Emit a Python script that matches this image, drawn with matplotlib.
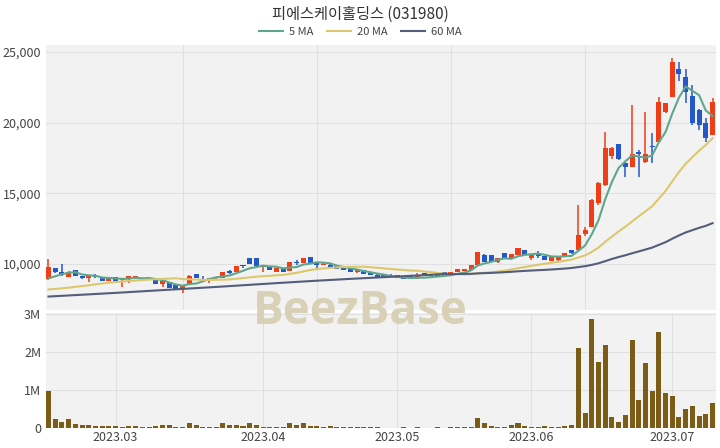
import pandas as pd
import numpy as np
import matplotlib
matplotlib.use("Agg")
import matplotlib.pyplot as plt
from matplotlib.lines import Line2D

plt.rcParams['font.family'] = ['Noto Sans CJK KR', 'DejaVu Sans']

title = "피에스케이홀딩스 (031980)"

# trading days (KRX holidays removed)
holidays = ["2023-03-01", "2023-05-01", "2023-05-05", "2023-05-29", "2023-06-06"]
dates = pd.bdate_range("2023-02-15", "2023-07-11")
dates = dates[~dates.isin(pd.to_datetime(holidays))]

opens = [8920, 9690, 9460, 9100, 9580, 9150, 8990, 9150, 9050, 8820,
         9050, 8870, 8990, 8990, 8990, 8990, 8870, 8590, 8750, 8520,
         8280, 8510, 9290, 9100, 8870, 8990, 8990, 9500, 9460, 9900,
         10400, 10400, 9760, 9810, 9460, 9690, 9530, 10120, 10050, 10470,
         10050, 9930, 9930, 9850, 9690, 9620, 9460, 9580, 9340, 9250,
         9250, 9250, 9220, 9175, 9150, 9000, 9340, 9290, 9340, 9450,
         9150, 9460, 9500, 9600, 9930, 10640, 10640, 10170, 10800, 10400,
         10640, 10990, 10400, 10700, 10590, 10230, 10280, 10500, 10990, 10990,
         12150, 12640, 14290, 15585, 17640, 18480, 17160, 16880, 17900, 17235,
         18350, 18650, 20770, 21830, 23770, 23250, 21880, 20890, 19940, 19120]
highs = [10350, 9750, 9970, 9500, 9600, 9170, 9180, 9260, 9060, 9060,
         9060, 9000, 9170, 9170, 9000, 9110, 8880, 8800, 8760, 8530,
         8510, 9200, 9300, 9150, 8990, 9110, 9470, 9580, 9880, 9960,
         10420, 10410, 9880, 9820, 9730, 9700, 10170, 10250, 10460, 10480,
         10060, 10050, 9990, 9860, 9700, 9630, 9590, 9590, 9350, 9260,
         9260, 9260, 9230, 9180, 9160, 9390, 9350, 9300, 9350, 9460,
         9460, 9630, 9630, 9940, 10880, 10700, 10650, 10420, 10810, 10690,
         11110, 11000, 10650, 10950, 10600, 10530, 10570, 10790, 11000, 14170,
         12600, 14600, 15800, 19360, 18250, 18500, 17200, 21240, 18060, 20770,
         19240, 21830, 21400, 24540, 24300, 23770, 22650, 20950, 20300, 21710]
lows = [8870, 9400, 9180, 9050, 9150, 8970, 8700, 8990, 8800, 8800,
        8800, 8400, 8630, 8970, 8800, 8870, 8580, 8400, 8270, 8150,
        7930, 8500, 8980, 8950, 8630, 8950, 8980, 9300, 9450, 9700,
        9990, 9870, 9460, 9570, 9450, 9410, 9520, 9930, 10040, 10040,
        9690, 9900, 9800, 9640, 9550, 9450, 9350, 9280, 9190, 9090,
        9090, 9090, 8980, 8910, 8910, 8950, 9140, 9140, 9140, 9140,
        9140, 9450, 9490, 9590, 9920, 10160, 10160, 10050, 10390, 10390,
        10630, 10630, 10280, 10400, 10270, 10220, 10200, 10490, 10740, 10950,
        11950, 12600, 14200, 15500, 17400, 17380, 16170, 16850, 16170, 17120,
        17120, 18600, 20650, 21800, 22960, 21360, 19830, 19470, 18650, 19100]
closes = [9810, 9460, 9220, 9460, 9180, 8990, 9170, 9060, 8820, 9050,
          8820, 8990, 9150, 9150, 8830, 8950, 8590, 8800, 8280, 8160,
          8510, 9170, 8990, 9050, 8990, 9100, 9460, 9340, 9870, 9830,
          10000, 9880, 9860, 9580, 9720, 9420, 10160, 10050, 10450, 10050,
          9900, 10020, 9810, 9650, 9560, 9460, 9580, 9290, 9200, 9100,
          9100, 9100, 8990, 8920, 8920, 9200, 9150, 9150, 9150, 9150,
          9450, 9620, 9620, 9930, 10870, 10170, 10170, 10400, 10400, 10680,
          11100, 10640, 10640, 10600, 10280, 10520, 10560, 10780, 10750, 12050,
          12400, 14525, 15700, 18180, 18180, 17400, 16830, 17780, 17780, 17780,
          18240, 21480, 21360, 24300, 23430, 22180, 19940, 19830, 18890, 21480]
volumes = [0.98, 0.23, 0.16, 0.23, 0.10, 0.07, 0.07, 0.05, 0.04, 0.04,
           0.04, 0.02, 0.05, 0.04, 0.03, 0.03, 0.04, 0.07, 0.07, 0.03,
           0.02, 0.12, 0.07, 0.03, 0.03, 0.03, 0.12, 0.07, 0.08, 0.05,
           0.13, 0.07, 0.03, 0.03, 0.02, 0.02, 0.12, 0.07, 0.13, 0.045,
           0.04, 0.03, 0.04, 0.03, 0.02, 0.02, 0.03, 0.02, 0.02, 0.02,
           0.01, 0.01, 0.01, 0.02, 0.01, 0.02, 0.01, 0.01, 0.02, 0.01,
           0.02, 0.02, 0.02, 0.02, 0.27, 0.12, 0.06, 0.03, 0.03, 0.08,
           0.14, 0.04, 0.03, 0.03, 0.04, 0.02, 0.02, 0.04, 0.07, 2.10,
           0.39, 2.86, 1.73, 2.20, 0.29, 0.17, 0.34, 2.33, 0.73, 1.72,
           0.98, 2.53, 0.91, 0.84, 0.29, 0.51, 0.57, 0.32, 0.36, 0.65]
volumes = [v * 1e6 for v in volumes]

ma5_head = [9000, 9130, 9280, 9380]
ma20_head_idx = [0, 3, 6, 9, 12, 15, 18]
ma20_head = [8200, 8330, 8500, 8680, 8800, 8900, 8970]
ma60_head_idx = [0, 5, 10, 15, 20, 25, 30, 35, 40, 45, 50, 55]
ma60_head = [7700, 7830, 7960, 8100, 8240, 8380, 8530, 8680, 8820, 8950, 9070, 9190]

df = pd.DataFrame({"open": opens, "high": highs, "low": lows, "close": closes,
                   "volume": volumes}, index=dates)
x = np.arange(len(df))
c = df["close"]
ma5 = ma5_head + list(c.rolling(5).mean().iloc[4:])
ma20_x = ma20_head_idx + list(x[19:])
ma20 = ma20_head + list(c.rolling(20).mean().iloc[19:])
ma60_x = ma60_head_idx + list(x[59:])
ma60 = ma60_head + list(c.rolling(60).mean().iloc[59:])

up_col = '#ef3d17'
down_col = '#2458c8'
bg = '#f2f2f2'
grid_col = '#e0e0e0'

fig = plt.figure(figsize=(7.2, 4.48), dpi=100)
ax = fig.add_axes([46/720, 1-310/448, 670/720, 265/448])
axv = fig.add_axes([46/720, 1-428/448, 670/720, 115/448])

for a in (ax, axv):
    a.set_facecolor(bg)
    for s in a.spines.values():
        s.set_visible(False)
    a.tick_params(length=0, labelsize=9, colors='#444444')
    a.set_xlim(-0.37, 99.52)
    a.grid(True, color=grid_col, linewidth=0.8)
    a.set_axisbelow(True)

# candles
is_up = df["close"] >= df["open"]
cols = [up_col if u else down_col for u in is_up]
body_lo = np.minimum(df["open"], df["close"])
body_h = np.maximum(np.abs(df["close"] - df["open"]), 40)
ax.vlines(x, df["low"], df["high"], colors=cols, linewidth=1.1, zorder=3)
ax.bar(x, body_h, bottom=body_lo, width=0.75, color=cols, zorder=4)

ax.plot(x, ma5, color='#5ea68e', linewidth=1.5, zorder=5)
ax.plot(ma20_x, ma20, color='#dcc86c', linewidth=1.5, zorder=5)
ax.plot(ma60_x, ma60, color='#545d7a', linewidth=1.5, zorder=5)

ax.set_ylim(6750, 25480)
ax.set_yticks([10000, 15000, 20000, 25000])
ax.set_yticklabels(['10,000', '15,000', '20,000', '25,000'])
ax.set_xticks([20, 40, 60, 80])
ax.set_xticklabels([])

# volume
axv.bar(x, df["volume"], width=0.75, color='#7a5c17', zorder=3)
axv.set_ylim(0, 3.03e6)
axv.set_yticks([0, 1e6, 2e6, 3e6])
axv.set_yticklabels(['0', '1M', '2M', '3M'])
months = pd.Series(dates.month)
tick_idx = [i for i in range(1, len(dates)) if months[i] != months[i-1]]
axv.set_xticks(tick_idx)
axv.set_xticklabels([dates[i].strftime('%Y.%m') for i in tick_idx])
axv.tick_params(axis='x', pad=2)

fig.text(0.5, 1-14/448, title, ha='center', va='center', fontsize=11, color='#333333')
handles = [Line2D([], [], color='#5ea68e', lw=1.5),
           Line2D([], [], color='#dcc86c', lw=1.5),
           Line2D([], [], color='#545d7a', lw=1.5)]
fig.legend(handles, ['5 MA', '20 MA', '60 MA'], loc='center', ncol=3,
           bbox_to_anchor=(0.5, 1-32/448), frameon=False, fontsize=8,
           handlelength=2.2, columnspacing=1.2, handletextpad=0.5,
           labelcolor='#444444')

fig.text(0.5, 1-311/448, 'BeezBase', ha='center', va='center', fontsize=33,
         fontweight='bold', color='#d8d1b7', family=['Open Sans', 'DejaVu Sans'],
         zorder=10)

fig.savefig('out.png', dpi=100, facecolor='white')
